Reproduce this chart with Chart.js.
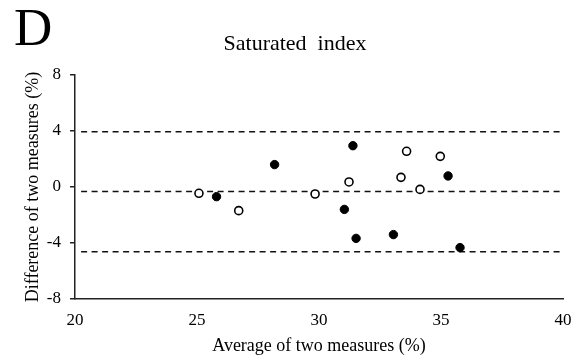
<!DOCTYPE html>
<html>
<head>
<meta charset="utf-8">
<script src="https://cdn.jsdelivr.net/npm/chart.js@4/dist/chart.umd.min.js"></script>
<style>
  html, body { margin: 0; padding: 0; background: #fff; }
  #wrap { width: 585px; height: 361px; }
</style>
</head>
<body>
<div id="wrap"><canvas id="c" width="585" height="361"></canvas></div>
<script>
// Bland–Altman plot: saturated index
const openAverages  = [25.08, 26.71, 29.84, 31.23, 33.36, 33.59, 34.14, 34.97];
const openDiffs     = [-0.45, -1.69, -0.50,  0.36,  0.69,  2.55, -0.17,  2.19];
const filledAverages = [25.80, 28.18, 31.04, 31.39, 31.52, 33.05, 35.29, 35.78];
const filledDiffs    = [-0.69,  1.60, -1.60,  2.95, -3.67, -3.40,  0.79, -4.33];

// bias and limits of agreement
const upperLimit = 3.95;
const meanBias   = -0.33;
const lowerLimit = -4.62;
const limitSpan  = [20.25, 40];

const xTicks = [20, 25, 30, 35, 40];
const yTicks = [-8, -4, 0, 4, 8];

const panelLetter = 'D';
const chartTitle  = 'Saturated  index';
const xTitle = 'Average of two measures (%)';
const yTitle = 'Difference of two measures (%)';

const SERIF = '"Liberation Serif", "Times New Roman", serif';
const INK = '#222';

const pts = (xs, ys) => xs.map((x, i) => ({ x, y: ys[i] }));
const hline = v => limitSpan.map(x => ({ x, y: v }));

const lineStyle = {
  type: 'line',
  borderColor: '#111',
  borderWidth: 1.5,
  borderDash: [6, 4.5],
  pointRadius: 0,
  fill: false,
  order: 5
};

const headerText = {
  id: 'headerText',
  afterDraw(chart) {
    const ctx = chart.ctx;
    ctx.save();
    ctx.fillStyle = '#000';
    ctx.textBaseline = 'alphabetic';
    ctx.textAlign = 'left';
    ctx.font = '53px ' + SERIF;
    ctx.fillText(panelLetter, 14, 45);
    ctx.textAlign = 'center';
    ctx.font = '22px ' + SERIF;
    ctx.fillText(chartTitle, 295, 50);
    ctx.restore();
  }
};

new Chart(document.getElementById('c'), {
  type: 'scatter',
  data: {
    datasets: [
      { ...lineStyle, data: hline(upperLimit) },
      { ...lineStyle, data: hline(meanBias) },
      { ...lineStyle, data: hline(lowerLimit) },
      {
        data: pts(openAverages, openDiffs),
        pointRadius: 4,
        pointBackgroundColor: '#fff',
        pointBorderColor: '#000',
        pointBorderWidth: 1.6,
        order: 1
      },
      {
        data: pts(filledAverages, filledDiffs),
        pointRadius: 4.2,
        pointBackgroundColor: '#000',
        pointBorderColor: '#000',
        pointBorderWidth: 1,
        order: 0
      }
    ]
  },
  options: {
    responsive: false,
    animation: false,
    layout: { padding: { left: 0, top: 75, right: 22, bottom: 0 } },
    plugins: { legend: { display: false }, tooltip: { enabled: false }, title: { display: false } },
    scales: {
      x: {
        type: 'linear',
        min: 20, max: 40,
        afterBuildTicks: s => { s.ticks = xTicks.map(v => ({ value: v })); },
        afterFit: s => { s.height = 62; },
        grid: { drawOnChartArea: false, drawTicks: false },
        border: { display: true, color: INK, width: 1.5 },
        ticks: { color: '#000', font: { family: SERIF, size: 17 }, padding: 11, maxRotation: 0 },
        title: { display: true, text: xTitle, color: '#000', font: { family: SERIF, size: 18 }, padding: { top: 0, bottom: 4 } }
      },
      y: {
        type: 'linear',
        min: -8, max: 8,
        afterBuildTicks: s => { s.ticks = yTicks.map(v => ({ value: v })); },
        afterFit: s => { s.width = 75; },
        grid: { drawOnChartArea: false, drawTicks: true, tickLength: 5, color: INK, lineWidth: 1.5 },
        border: { display: true, color: INK, width: 1.5 },
        ticks: { color: '#000', font: { family: SERIF, size: 17 }, padding: 9 },
        title: { display: true, text: yTitle, color: '#000', font: { family: SERIF, size: 18 }, padding: { top: 22, bottom: 0 } }
      }
    }
  },
  plugins: [headerText]
});
</script>
</body>
</html>
